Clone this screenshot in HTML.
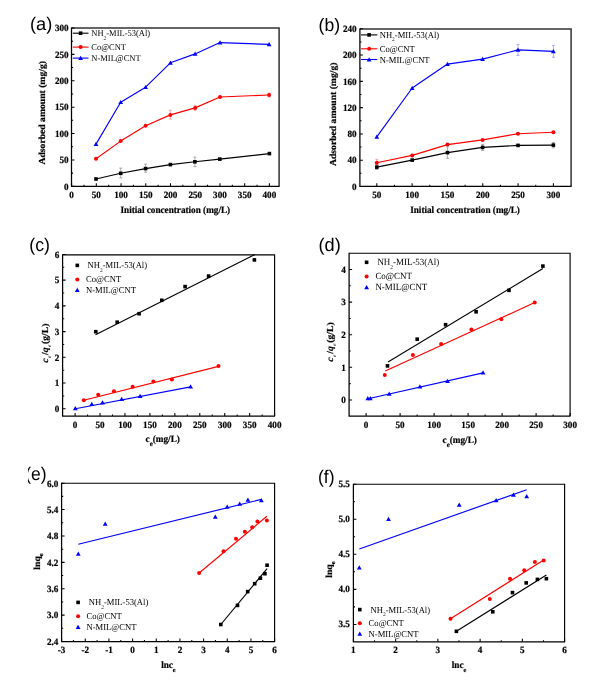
<!DOCTYPE html>
<html lang="en">
<head>
<meta charset="utf-8">
<title>Adsorption isotherms</title>
<style>
html,body{margin:0;padding:0;background:#fff;}
body{width:602px;height:681px;overflow:hidden;}
svg{display:block;}
text{text-rendering:geometricPrecision;}
</style>
</head>
<body>
<svg width="602" height="681" viewBox="0 0 602 681">
<rect width="602" height="681" fill="#fff"/>
<path d="M71.5 28H279.1V186.3" fill="none" stroke="#333" stroke-width="1.5"/>
<path d="M71.5 27.5V186.3H279.6" fill="none" stroke="#000" stroke-width="1.25" stroke-linejoin="miter"/>
<path d="M71.6 186.3v-3.0M96.32 186.3v-3.0M121.05 186.3v-3.0M145.77 186.3v-3.0M170.5 186.3v-3.0M195.22 186.3v-3.0M219.95 186.3v-3.0M244.67 186.3v-3.0M269.4 186.3v-3.0M83.96 186.3v-1.6M108.69 186.3v-1.6M133.41 186.3v-1.6M158.14 186.3v-1.6M182.86 186.3v-1.6M207.59 186.3v-1.6M232.31 186.3v-1.6M257.04 186.3v-1.6M71.5 186.3h3.0M71.5 159.92h3.0M71.5 133.53h3.0M71.5 107.15h3.0M71.5 80.77h3.0M71.5 54.38h3.0M71.5 28h3.0M71.5 173.11h1.6M71.5 146.73h1.6M71.5 120.34h1.6M71.5 93.96h1.6M71.5 67.58h1.6M71.5 41.19h1.6" fill="none" stroke="#000" stroke-width="1.05"/>
<g font-family="'Liberation Serif',serif" font-weight="bold" font-size="9.15" fill="#000" stroke="#000" stroke-width="0.2">
<g text-anchor="middle">
<text transform="translate(71.6 197.7) scale(1 1.05)">0</text>
<text transform="translate(96.32 197.7) scale(1 1.05)">50</text>
<text transform="translate(121.05 197.7) scale(1 1.05)">100</text>
<text transform="translate(145.77 197.7) scale(1 1.05)">150</text>
<text transform="translate(170.5 197.7) scale(1 1.05)">200</text>
<text transform="translate(195.22 197.7) scale(1 1.05)">250</text>
<text transform="translate(219.95 197.7) scale(1 1.05)">300</text>
<text transform="translate(244.67 197.7) scale(1 1.05)">350</text>
<text transform="translate(269.4 197.7) scale(1 1.05)">400</text>
</g><g text-anchor="end">
<text transform="translate(68.6 189.6) scale(1 1.05)">0</text>
<text transform="translate(68.6 163.22) scale(1 1.05)">50</text>
<text transform="translate(68.6 136.83) scale(1 1.05)">100</text>
<text transform="translate(68.6 110.45) scale(1 1.05)">150</text>
<text transform="translate(68.6 84.07) scale(1 1.05)">200</text>
<text transform="translate(68.6 57.68) scale(1 1.05)">250</text>
<text transform="translate(68.6 31.3) scale(1 1.05)">300</text>
</g></g>
<path d="M120.7 168.1V177.8M119.2 168.1h3M119.2 177.8h3" stroke="#8c8c8c" stroke-width="0.7" fill="none"/>
<path d="M145.6 164.1V172.3M144.1 164.1h3M144.1 172.3h3" stroke="#8c8c8c" stroke-width="0.7" fill="none"/>
<path d="M194.9 157.1V166.6M193.4 157.1h3M193.4 166.6h3" stroke="#8c8c8c" stroke-width="0.7" fill="none"/>
<path d="M170.4 110.2V119.1M168.9 110.2h3M168.9 119.1h3" stroke="#ff8a8a" stroke-width="0.7" fill="none"/>
<path d="M195.1 105.4V110.4M193.6 105.4h3M193.6 110.4h3" stroke="#ff8a8a" stroke-width="0.7" fill="none"/>
<path d="M269.1 93V97M267.6 93h3M267.6 97h3" stroke="#ff8a8a" stroke-width="0.7" fill="none"/>
<path d="M96 179L120.7 173.3L145.6 168.6L170.4 164.6L194.9 161.8L219.8 159.1L269.4 153.6" fill="none" stroke="#000" stroke-width="1.15" stroke-linejoin="round"/>
<rect x="94.2" y="177.2" width="3.6" height="3.6" fill="#000"/>
<rect x="118.9" y="171.5" width="3.6" height="3.6" fill="#000"/>
<rect x="143.8" y="166.8" width="3.6" height="3.6" fill="#000"/>
<rect x="168.6" y="162.8" width="3.6" height="3.6" fill="#000"/>
<rect x="193.1" y="160" width="3.6" height="3.6" fill="#000"/>
<rect x="218" y="157.3" width="3.6" height="3.6" fill="#000"/>
<rect x="267.6" y="151.8" width="3.6" height="3.6" fill="#000"/>
<path d="M96 158.8L120.7 141.1L145.6 125.7L170.4 114.9L195.1 107.9L220 97L269.1 95" fill="none" stroke="#ff0000" stroke-width="1.15" stroke-linejoin="round"/>
<circle cx="96" cy="158.8" r="2" fill="#ff0000"/>
<circle cx="120.7" cy="141.1" r="2" fill="#ff0000"/>
<circle cx="145.6" cy="125.7" r="2" fill="#ff0000"/>
<circle cx="170.4" cy="114.9" r="2" fill="#ff0000"/>
<circle cx="195.1" cy="107.9" r="2" fill="#ff0000"/>
<circle cx="220" cy="97" r="2" fill="#ff0000"/>
<circle cx="269.1" cy="95" r="2" fill="#ff0000"/>
<path d="M96 144.1L120.7 102.2L145.6 87.2L170.4 62.8L195.1 53.9L220 42.6L269.1 44.4" fill="none" stroke="#0000ff" stroke-width="1.15" stroke-linejoin="round"/>
<path d="M93.6 146L98.4 146L96 141.8Z" fill="#0000ff"/>
<path d="M118.3 104.1L123.1 104.1L120.7 99.9Z" fill="#0000ff"/>
<path d="M143.2 89.1L148 89.1L145.6 84.9Z" fill="#0000ff"/>
<path d="M168 64.7L172.8 64.7L170.4 60.5Z" fill="#0000ff"/>
<path d="M192.7 55.8L197.5 55.8L195.1 51.6Z" fill="#0000ff"/>
<path d="M217.6 44.5L222.4 44.5L220 40.3Z" fill="#0000ff"/>
<path d="M266.7 46.3L271.5 46.3L269.1 42.1Z" fill="#0000ff"/>
<path d="M72.8 33.2H88.5" stroke="#000" stroke-width="1.1" fill="none"/>
<rect x="78.8" y="31.4" width="3.6" height="3.6" fill="#000"/>
<text transform="translate(91.3 36.2) scale(1 1.05)" font-family="'Liberation Serif',serif" font-size="8.5" fill="#000">NH<tspan dy="3.3" font-size="5.4">2</tspan><tspan dy="-3.3">-MIL-53(Al)</tspan></text>
<path d="M72.8 47.1H88.5" stroke="#ff0000" stroke-width="1.1" fill="none"/>
<circle cx="80.6" cy="47.1" r="2" fill="#ff0000"/>
<text transform="translate(91.3 50.1) scale(1 1.05)" font-family="'Liberation Serif',serif" font-size="8.5" fill="#000">Co@CNT</text>
<path d="M72.8 58.1H88.5" stroke="#0000ff" stroke-width="1.1" fill="none"/>
<path d="M78.2 60L83 60L80.6 55.8Z" fill="#0000ff"/>
<text transform="translate(91.3 61.1) scale(1 1.05)" font-family="'Liberation Serif',serif" font-size="8.5" fill="#000">N-MIL@CNT</text>
<path d="M359.9 28.9H571.1V186.3" fill="none" stroke="#333" stroke-width="1.5"/>
<path d="M359.9 28.4V186.3H571.6" fill="none" stroke="#000" stroke-width="1.25" stroke-linejoin="miter"/>
<path d="M376.8 186.3v-3.0M412.12 186.3v-3.0M447.44 186.3v-3.0M482.76 186.3v-3.0M518.08 186.3v-3.0M553.4 186.3v-3.0M394.46 186.3v-1.6M429.78 186.3v-1.6M465.1 186.3v-1.6M500.42 186.3v-1.6M535.74 186.3v-1.6M359.9 186.45h3.0M359.9 160.17h3.0M359.9 133.9h3.0M359.9 107.62h3.0M359.9 81.35h3.0M359.9 55.08h3.0M359.9 28.8h3.0M359.9 173.31h1.6M359.9 147.04h1.6M359.9 120.76h1.6M359.9 94.49h1.6M359.9 68.21h1.6M359.9 41.94h1.6" fill="none" stroke="#000" stroke-width="1.05"/>
<g font-family="'Liberation Serif',serif" font-weight="bold" font-size="9.15" fill="#000" stroke="#000" stroke-width="0.2">
<g text-anchor="middle">
<text transform="translate(376.8 198) scale(1 1.05)">50</text>
<text transform="translate(412.12 198) scale(1 1.05)">100</text>
<text transform="translate(447.44 198) scale(1 1.05)">150</text>
<text transform="translate(482.76 198) scale(1 1.05)">200</text>
<text transform="translate(518.08 198) scale(1 1.05)">250</text>
<text transform="translate(553.4 198) scale(1 1.05)">300</text>
</g><g text-anchor="end">
<text transform="translate(356.6 189.75) scale(1 1.05)">0</text>
<text transform="translate(356.6 163.47) scale(1 1.05)">40</text>
<text transform="translate(356.6 137.2) scale(1 1.05)">80</text>
<text transform="translate(356.6 110.92) scale(1 1.05)">120</text>
<text transform="translate(356.6 84.65) scale(1 1.05)">160</text>
<text transform="translate(356.6 58.38) scale(1 1.05)">200</text>
<text transform="translate(356.6 32.1) scale(1 1.05)">240</text>
</g></g>
<path d="M518 44.4V55.4M516.5 44.4h3M516.5 55.4h3" stroke="#8a8aff" stroke-width="0.7" fill="none"/>
<path d="M553.4 45.4V57.3M551.9 45.4h3M551.9 57.3h3" stroke="#8a8aff" stroke-width="0.7" fill="none"/>
<path d="M447.5 146.9V158.3M446 146.9h3M446 158.3h3" stroke="#8c8c8c" stroke-width="0.7" fill="none"/>
<path d="M482.6 144.4V150.4M481.1 144.4h3M481.1 150.4h3" stroke="#8c8c8c" stroke-width="0.7" fill="none"/>
<path d="M553.4 142.4V147.9M551.9 142.4h3M551.9 147.9h3" stroke="#8c8c8c" stroke-width="0.7" fill="none"/>
<path d="M376.8 164.5V169.5M375.3 164.5h3M375.3 169.5h3" stroke="#8c8c8c" stroke-width="0.7" fill="none"/>
<path d="M376.8 159.3V166.1M375.3 159.3h3M375.3 166.1h3" stroke="#ff8a8a" stroke-width="0.7" fill="none"/>
<path d="M376.8 167.1L412.2 160.1L447.5 152.6L482.6 147.4L518 145.4L553.4 145.1" fill="none" stroke="#000" stroke-width="1.15" stroke-linejoin="round"/>
<rect x="375" y="165.3" width="3.6" height="3.6" fill="#000"/>
<rect x="410.4" y="158.3" width="3.6" height="3.6" fill="#000"/>
<rect x="445.7" y="150.8" width="3.6" height="3.6" fill="#000"/>
<rect x="480.8" y="145.6" width="3.6" height="3.6" fill="#000"/>
<rect x="516.2" y="143.6" width="3.6" height="3.6" fill="#000"/>
<rect x="551.6" y="143.3" width="3.6" height="3.6" fill="#000"/>
<path d="M376.8 162.8L412.2 155.4L447.5 144.6L482.6 139.9L518 133.7L553.4 132.2" fill="none" stroke="#ff0000" stroke-width="1.15" stroke-linejoin="round"/>
<circle cx="376.8" cy="162.8" r="2" fill="#ff0000"/>
<circle cx="412.2" cy="155.4" r="2" fill="#ff0000"/>
<circle cx="447.5" cy="144.6" r="2" fill="#ff0000"/>
<circle cx="482.6" cy="139.9" r="2" fill="#ff0000"/>
<circle cx="518" cy="133.7" r="2" fill="#ff0000"/>
<circle cx="553.4" cy="132.2" r="2" fill="#ff0000"/>
<path d="M376.8 136.9L412.2 88L447.5 64.1L482.6 59.1L518 49.9L553.4 51.4" fill="none" stroke="#0000ff" stroke-width="1.15" stroke-linejoin="round"/>
<path d="M374.4 138.8L379.2 138.8L376.8 134.6Z" fill="#0000ff"/>
<path d="M409.8 89.9L414.6 89.9L412.2 85.7Z" fill="#0000ff"/>
<path d="M445.1 66L449.9 66L447.5 61.8Z" fill="#0000ff"/>
<path d="M480.2 61L485 61L482.6 56.8Z" fill="#0000ff"/>
<path d="M515.6 51.8L520.4 51.8L518 47.6Z" fill="#0000ff"/>
<path d="M551 53.3L555.8 53.3L553.4 49.1Z" fill="#0000ff"/>
<path d="M361.1 34.9H377.3" stroke="#000" stroke-width="1.1" fill="none"/>
<rect x="367.3" y="33.1" width="3.6" height="3.6" fill="#000"/>
<text transform="translate(379.7 37.9) scale(1 1.05)" font-family="'Liberation Serif',serif" font-size="8.6" fill="#000">NH<tspan dy="3.3" font-size="5.4">2</tspan><tspan dy="-3.3">-MIL-53(Al)</tspan></text>
<path d="M361.1 48.8H377.3" stroke="#ff0000" stroke-width="1.1" fill="none"/>
<circle cx="369.1" cy="48.8" r="2" fill="#ff0000"/>
<text transform="translate(379.7 51.8) scale(1 1.05)" font-family="'Liberation Serif',serif" font-size="8.6" fill="#000">Co@CNT</text>
<path d="M361.1 59.5H377.3" stroke="#0000ff" stroke-width="1.1" fill="none"/>
<path d="M366.7 61.4L371.5 61.4L369.1 57.2Z" fill="#0000ff"/>
<text transform="translate(379.7 62.5) scale(1 1.05)" font-family="'Liberation Serif',serif" font-size="8.6" fill="#000">N-MIL@CNT</text>
<path d="M62.6 254.8H274.6V416.1" fill="none" stroke="#000" stroke-width="1.15"/>
<path d="M62.6 254.3V416.1H275.1" fill="none" stroke="#000" stroke-width="1.25" stroke-linejoin="miter"/>
<path d="M75.1 416.1v-3.0M100.04 416.1v-3.0M124.97 416.1v-3.0M149.91 416.1v-3.0M174.85 416.1v-3.0M199.79 416.1v-3.0M224.73 416.1v-3.0M249.66 416.1v-3.0M274.6 416.1v-3.0M87.57 416.1v-1.6M112.51 416.1v-1.6M137.44 416.1v-1.6M162.38 416.1v-1.6M187.32 416.1v-1.6M212.26 416.1v-1.6M237.19 416.1v-1.6M262.13 416.1v-1.6M62.6 408.8h3.0M62.6 383.07h3.0M62.6 357.33h3.0M62.6 331.6h3.0M62.6 305.87h3.0M62.6 280.13h3.0M62.6 254.4h3.0M62.6 395.93h1.6M62.6 370.2h1.6M62.6 344.47h1.6M62.6 318.73h1.6M62.6 293h1.6M62.6 267.27h1.6" fill="none" stroke="#000" stroke-width="1.05"/>
<g font-family="'Liberation Serif',serif" font-weight="bold" font-size="9.15" fill="#000" stroke="#000" stroke-width="0.2">
<g text-anchor="middle">
<text transform="translate(75.1 427.8) scale(1 1.05)">0</text>
<text transform="translate(100.04 427.8) scale(1 1.05)">50</text>
<text transform="translate(124.97 427.8) scale(1 1.05)">100</text>
<text transform="translate(149.91 427.8) scale(1 1.05)">150</text>
<text transform="translate(174.85 427.8) scale(1 1.05)">200</text>
<text transform="translate(199.79 427.8) scale(1 1.05)">250</text>
<text transform="translate(224.73 427.8) scale(1 1.05)">300</text>
<text transform="translate(249.66 427.8) scale(1 1.05)">350</text>
<text transform="translate(274.6 427.8) scale(1 1.05)">400</text>
</g><g text-anchor="end">
<text transform="translate(59.4 412.1) scale(1 1.05)">0</text>
<text transform="translate(59.4 386.37) scale(1 1.05)">1</text>
<text transform="translate(59.4 360.63) scale(1 1.05)">2</text>
<text transform="translate(59.4 334.9) scale(1 1.05)">3</text>
<text transform="translate(59.4 309.17) scale(1 1.05)">4</text>
<text transform="translate(59.4 283.43) scale(1 1.05)">5</text>
<text transform="translate(59.4 257.7) scale(1 1.05)">6</text>
</g></g>
<path d="M95.5 334.7L254.9 254.6" fill="none" stroke="#000" stroke-width="1.15"/>
<rect x="93.95" y="329.9" width="3.6" height="3.6" fill="#000"/>
<rect x="115.4" y="320.4" width="3.6" height="3.6" fill="#000"/>
<rect x="137.3" y="311.9" width="3.6" height="3.6" fill="#000"/>
<rect x="160" y="298.5" width="3.6" height="3.6" fill="#000"/>
<rect x="183.3" y="284.8" width="3.6" height="3.6" fill="#000"/>
<rect x="206.8" y="274.3" width="3.6" height="3.6" fill="#000"/>
<rect x="252.6" y="258.1" width="3.6" height="3.6" fill="#000"/>
<path d="M83.8 400.3L218.5 366.4" fill="none" stroke="#ff0000" stroke-width="1.15"/>
<circle cx="83.8" cy="400.3" r="2" fill="#ff0000"/>
<circle cx="98.2" cy="394.8" r="2" fill="#ff0000"/>
<circle cx="113.9" cy="391.3" r="2" fill="#ff0000"/>
<circle cx="132.6" cy="386.8" r="2" fill="#ff0000"/>
<circle cx="153.4" cy="381.6" r="2" fill="#ff0000"/>
<circle cx="171.9" cy="379.4" r="2" fill="#ff0000"/>
<circle cx="218.5" cy="365.9" r="2" fill="#ff0000"/>
<path d="M75.3 408.8L190.6 386.9" fill="none" stroke="#0000ff" stroke-width="1.15"/>
<path d="M72.9 410.2L77.7 410.2L75.3 406Z" fill="#0000ff"/>
<path d="M89.4 405.9L94.2 405.9L91.8 401.7Z" fill="#0000ff"/>
<path d="M100.1 404.4L104.9 404.4L102.5 400.2Z" fill="#0000ff"/>
<path d="M119.3 400.9L124.1 400.9L121.7 396.7Z" fill="#0000ff"/>
<path d="M137.7 397.9L142.5 397.9L140.1 393.7Z" fill="#0000ff"/>
<path d="M188.2 388.5L193 388.5L190.6 384.3Z" fill="#0000ff"/>
<rect x="75.5" y="263.6" width="3.6" height="3.6" fill="#000"/>
<text transform="translate(87.6 268.4) scale(1 1.05)" font-family="'Liberation Serif',serif" font-size="8.6" fill="#000">NH<tspan dy="3.3" font-size="5.4">2</tspan><tspan dy="-3.3">-MIL-53(Al)</tspan></text>
<circle cx="77.3" cy="279.4" r="2" fill="#ff0000"/>
<text transform="translate(86 282.4) scale(1 1.05)" font-family="'Liberation Serif',serif" font-size="8.6" fill="#000">Co@CNT</text>
<path d="M74.9 292L79.7 292L77.3 287.8Z" fill="#0000ff"/>
<text transform="translate(86 293.1) scale(1 1.05)" font-family="'Liberation Serif',serif" font-size="8.6" fill="#000">N-MIL@CNT</text>
<path d="M349.1 253.2H570.1V416.1" fill="none" stroke="#000" stroke-width="1.15"/>
<path d="M349.1 252.7V416.1H570.6" fill="none" stroke="#000" stroke-width="1.25" stroke-linejoin="miter"/>
<path d="M366.1 416.1v-3.0M400.1 416.1v-3.0M434.1 416.1v-3.0M468.1 416.1v-3.0M502.1 416.1v-3.0M536.1 416.1v-3.0M570.1 416.1v-3.0M383.1 416.1v-1.6M417.1 416.1v-1.6M451.1 416.1v-1.6M485.1 416.1v-1.6M519.1 416.1v-1.6M553.1 416.1v-1.6M349.1 399.9h3.0M349.1 367.3h3.0M349.1 334.7h3.0M349.1 302.1h3.0M349.1 269.5h3.0M349.1 383.6h1.6M349.1 351h1.6M349.1 318.4h1.6M349.1 285.8h1.6" fill="none" stroke="#000" stroke-width="1.05"/>
<g font-family="'Liberation Serif',serif" font-weight="bold" font-size="9.15" fill="#000" stroke="#000" stroke-width="0.2">
<g text-anchor="middle">
<text transform="translate(366.1 427.8) scale(1 1.05)">0</text>
<text transform="translate(400.1 427.8) scale(1 1.05)">50</text>
<text transform="translate(434.1 427.8) scale(1 1.05)">100</text>
<text transform="translate(468.1 427.8) scale(1 1.05)">150</text>
<text transform="translate(502.1 427.8) scale(1 1.05)">200</text>
<text transform="translate(536.1 427.8) scale(1 1.05)">250</text>
<text transform="translate(570.1 427.8) scale(1 1.05)">300</text>
</g><g text-anchor="end">
<text transform="translate(345.9 403.2) scale(1 1.05)">0</text>
<text transform="translate(345.9 370.6) scale(1 1.05)">1</text>
<text transform="translate(345.9 338) scale(1 1.05)">2</text>
<text transform="translate(345.9 305.4) scale(1 1.05)">3</text>
<text transform="translate(345.9 272.8) scale(1 1.05)">4</text>
</g></g>
<path d="M388 361.9L542.9 268.6" fill="none" stroke="#000" stroke-width="1.15"/>
<rect x="385.7" y="364.1" width="3.6" height="3.6" fill="#000"/>
<rect x="415.4" y="337.4" width="3.6" height="3.6" fill="#000"/>
<rect x="443.8" y="322.9" width="3.6" height="3.6" fill="#000"/>
<rect x="474.3" y="310" width="3.6" height="3.6" fill="#000"/>
<rect x="507.2" y="288.5" width="3.6" height="3.6" fill="#000"/>
<rect x="541.1" y="264.3" width="3.6" height="3.6" fill="#000"/>
<path d="M385.3 371.1L534.7 302.5" fill="none" stroke="#ff0000" stroke-width="1.15"/>
<circle cx="384.8" cy="374.9" r="2" fill="#ff0000"/>
<circle cx="412.9" cy="354.9" r="2" fill="#ff0000"/>
<circle cx="441.1" cy="344" r="2" fill="#ff0000"/>
<circle cx="471.4" cy="329.4" r="2" fill="#ff0000"/>
<circle cx="501.3" cy="319.2" r="2" fill="#ff0000"/>
<circle cx="534.7" cy="302.5" r="2" fill="#ff0000"/>
<path d="M367 399L483.1 372.9" fill="none" stroke="#0000ff" stroke-width="1.15"/>
<path d="M365.4 400.2L370.2 400.2L367.8 396Z" fill="#0000ff"/>
<path d="M367.9 400.2L372.7 400.2L370.3 396Z" fill="#0000ff"/>
<path d="M386.8 395.7L391.6 395.7L389.2 391.5Z" fill="#0000ff"/>
<path d="M417.5 388.5L422.3 388.5L419.9 384.3Z" fill="#0000ff"/>
<path d="M445.2 382.9L450 382.9L447.6 378.7Z" fill="#0000ff"/>
<path d="M480.7 374.5L485.5 374.5L483.1 370.3Z" fill="#0000ff"/>
<rect x="364.8" y="260.5" width="3.6" height="3.6" fill="#000"/>
<text transform="translate(377.4 265.3) scale(1 1.05)" font-family="'Liberation Serif',serif" font-size="8.95" fill="#000">NH<tspan dy="3.3" font-size="5.4">2</tspan><tspan dy="-3.3">-MIL-53(Al)</tspan></text>
<circle cx="366.6" cy="276.4" r="2" fill="#ff0000"/>
<text transform="translate(375.4 279.4) scale(1 1.05)" font-family="'Liberation Serif',serif" font-size="8.95" fill="#000">Co@CNT</text>
<path d="M364.2 289.3L369 289.3L366.6 285.1Z" fill="#0000ff"/>
<text transform="translate(375.4 290.4) scale(1 1.05)" font-family="'Liberation Serif',serif" font-size="8.95" fill="#000">N-MIL@CNT</text>
<path d="M61.6 483.2H274.6V641.5" fill="none" stroke="#000" stroke-width="1.15"/>
<path d="M61.6 482.7V641.5H275.1" fill="none" stroke="#000" stroke-width="1.25" stroke-linejoin="miter"/>
<path d="M61.6 641.5v-3.0M85.27 641.5v-3.0M108.93 641.5v-3.0M132.6 641.5v-3.0M156.27 641.5v-3.0M179.93 641.5v-3.0M203.6 641.5v-3.0M227.27 641.5v-3.0M250.93 641.5v-3.0M274.6 641.5v-3.0M73.43 641.5v-1.6M97.1 641.5v-1.6M120.77 641.5v-1.6M144.43 641.5v-1.6M168.1 641.5v-1.6M191.77 641.5v-1.6M215.43 641.5v-1.6M239.1 641.5v-1.6M262.77 641.5v-1.6M61.6 641.5h3.0M61.6 615.12h3.0M61.6 588.73h3.0M61.6 562.35h3.0M61.6 535.97h3.0M61.6 509.58h3.0M61.6 483.2h3.0M61.6 628.31h1.6M61.6 601.92h1.6M61.6 575.54h1.6M61.6 549.16h1.6M61.6 522.77h1.6M61.6 496.39h1.6" fill="none" stroke="#000" stroke-width="1.05"/>
<g font-family="'Liberation Serif',serif" font-weight="bold" font-size="9.15" fill="#000" stroke="#000" stroke-width="0.2">
<g text-anchor="middle">
<text transform="translate(61.6 652.8) scale(1 1.05)">-3</text>
<text transform="translate(85.27 652.8) scale(1 1.05)">-2</text>
<text transform="translate(108.93 652.8) scale(1 1.05)">-1</text>
<text transform="translate(132.6 652.8) scale(1 1.05)">0</text>
<text transform="translate(156.27 652.8) scale(1 1.05)">1</text>
<text transform="translate(179.93 652.8) scale(1 1.05)">2</text>
<text transform="translate(203.6 652.8) scale(1 1.05)">3</text>
<text transform="translate(227.27 652.8) scale(1 1.05)">4</text>
<text transform="translate(250.93 652.8) scale(1 1.05)">5</text>
<text transform="translate(274.6 652.8) scale(1 1.05)">6</text>
</g><g text-anchor="end">
<text transform="translate(58.4 644.8) scale(1 1.05)">2.4</text>
<text transform="translate(58.4 618.42) scale(1 1.05)">3.0</text>
<text transform="translate(58.4 592.03) scale(1 1.05)">3.6</text>
<text transform="translate(58.4 565.65) scale(1 1.05)">4.2</text>
<text transform="translate(58.4 539.27) scale(1 1.05)">4.8</text>
<text transform="translate(58.4 512.88) scale(1 1.05)">5.4</text>
<text transform="translate(58.4 486.5) scale(1 1.05)">6.0</text>
</g></g>
<path d="M220.8 624.5L267.1 568.7" fill="none" stroke="#000" stroke-width="1.15"/>
<rect x="219" y="622.7" width="3.6" height="3.6" fill="#000"/>
<rect x="235.7" y="603.6" width="3.6" height="3.6" fill="#000"/>
<rect x="245.9" y="589.8" width="3.6" height="3.6" fill="#000"/>
<rect x="252.9" y="581.9" width="3.6" height="3.6" fill="#000"/>
<rect x="258.6" y="576.4" width="3.6" height="3.6" fill="#000"/>
<rect x="263.1" y="571.9" width="3.6" height="3.6" fill="#000"/>
<rect x="265.3" y="563.4" width="3.6" height="3.6" fill="#000"/>
<path d="M199.1 573L266.9 516.3" fill="none" stroke="#ff0000" stroke-width="1.15"/>
<circle cx="199.1" cy="573" r="2" fill="#ff0000"/>
<circle cx="223.5" cy="551.2" r="2" fill="#ff0000"/>
<circle cx="236" cy="538.7" r="2" fill="#ff0000"/>
<circle cx="244.9" cy="531.8" r="2" fill="#ff0000"/>
<circle cx="252.2" cy="527.3" r="2" fill="#ff0000"/>
<circle cx="257.4" cy="521.5" r="2" fill="#ff0000"/>
<circle cx="266.9" cy="520.6" r="2" fill="#ff0000"/>
<path d="M78.3 544.2L261.4 499.4" fill="none" stroke="#0000ff" stroke-width="1.15"/>
<path d="M75.9 555.8L80.7 555.8L78.3 551.6Z" fill="#0000ff"/>
<path d="M102.8 525.7L107.6 525.7L105.2 521.5Z" fill="#0000ff"/>
<path d="M212.9 518.7L217.7 518.7L215.3 514.5Z" fill="#0000ff"/>
<path d="M224.8 508.7L229.6 508.7L227.2 504.5Z" fill="#0000ff"/>
<path d="M237.3 505.8L242.1 505.8L239.7 501.6Z" fill="#0000ff"/>
<path d="M245.5 501.8L250.3 501.8L247.9 497.6Z" fill="#0000ff"/>
<path d="M259 502.3L263.8 502.3L261.4 498.1Z" fill="#0000ff"/>
<rect x="76.3" y="600.6" width="3.6" height="3.6" fill="#000"/>
<text transform="translate(88.8 605.4) scale(1 1.05)" font-family="'Liberation Serif',serif" font-size="8.6" fill="#000">NH<tspan dy="3.3" font-size="5.4">2</tspan><tspan dy="-3.3">-MIL-53(Al)</tspan></text>
<circle cx="78.1" cy="616.3" r="2" fill="#ff0000"/>
<text transform="translate(86.5 619.3) scale(1 1.05)" font-family="'Liberation Serif',serif" font-size="8.6" fill="#000">Co@CNT</text>
<path d="M75.7 628.9L80.5 628.9L78.1 624.7Z" fill="#0000ff"/>
<text transform="translate(86.5 630) scale(1 1.05)" font-family="'Liberation Serif',serif" font-size="8.6" fill="#000">N-MIL@CNT</text>
<path d="M353.4 484.2H564.6V641.8" fill="none" stroke="#000" stroke-width="1.15"/>
<path d="M353.4 483.7V641.8H565.1" fill="none" stroke="#000" stroke-width="1.25" stroke-linejoin="miter"/>
<path d="M353.4 641.8v-3.0M395.64 641.8v-3.0M437.88 641.8v-3.0M480.12 641.8v-3.0M522.36 641.8v-3.0M564.6 641.8v-3.0M374.52 641.8v-1.6M416.76 641.8v-1.6M459 641.8v-1.6M501.24 641.8v-1.6M543.48 641.8v-1.6M353.4 624.4h3.0M353.4 589.35h3.0M353.4 554.3h3.0M353.4 519.25h3.0M353.4 484.2h3.0M353.4 606.88h1.6M353.4 571.82h1.6M353.4 536.77h1.6M353.4 501.73h1.6" fill="none" stroke="#000" stroke-width="1.05"/>
<g font-family="'Liberation Serif',serif" font-weight="bold" font-size="9.15" fill="#000" stroke="#000" stroke-width="0.2">
<g text-anchor="middle">
<text transform="translate(353.4 653) scale(1 1.05)">1</text>
<text transform="translate(395.64 653) scale(1 1.05)">2</text>
<text transform="translate(437.88 653) scale(1 1.05)">3</text>
<text transform="translate(480.12 653) scale(1 1.05)">4</text>
<text transform="translate(522.36 653) scale(1 1.05)">5</text>
<text transform="translate(564.6 653) scale(1 1.05)">6</text>
</g><g text-anchor="end">
<text transform="translate(349.8 627.2) scale(1 1.05)">3.5</text>
<text transform="translate(349.8 592.15) scale(1 1.05)">4.0</text>
<text transform="translate(349.8 557.1) scale(1 1.05)">4.5</text>
<text transform="translate(349.8 522.05) scale(1 1.05)">5.0</text>
<text transform="translate(349.8 487) scale(1 1.05)">5.5</text>
</g></g>
<path d="M456.4 631.3L546.4 575" fill="none" stroke="#000" stroke-width="1.15"/>
<rect x="454.6" y="629.5" width="3.6" height="3.6" fill="#000"/>
<rect x="491" y="610" width="3.6" height="3.6" fill="#000"/>
<rect x="510.7" y="590.8" width="3.6" height="3.6" fill="#000"/>
<rect x="524.4" y="581.1" width="3.6" height="3.6" fill="#000"/>
<rect x="535.6" y="577.6" width="3.6" height="3.6" fill="#000"/>
<rect x="544.6" y="576.9" width="3.6" height="3.6" fill="#000"/>
<path d="M450.5 618.8L543.7 560" fill="none" stroke="#ff0000" stroke-width="1.15"/>
<circle cx="450.5" cy="618.8" r="2" fill="#ff0000"/>
<circle cx="489.8" cy="599.1" r="2" fill="#ff0000"/>
<circle cx="510" cy="578.7" r="2" fill="#ff0000"/>
<circle cx="524.2" cy="570.2" r="2" fill="#ff0000"/>
<circle cx="534.9" cy="562" r="2" fill="#ff0000"/>
<circle cx="543.7" cy="560.5" r="2" fill="#ff0000"/>
<path d="M359.3 549L526.7 489.7" fill="none" stroke="#0000ff" stroke-width="1.15"/>
<path d="M356.9 569.5L361.7 569.5L359.3 565.3Z" fill="#0000ff"/>
<path d="M386.1 521L390.9 521L388.5 516.8Z" fill="#0000ff"/>
<path d="M456.8 506.8L461.6 506.8L459.2 502.6Z" fill="#0000ff"/>
<path d="M493.7 502.3L498.5 502.3L496.1 498.1Z" fill="#0000ff"/>
<path d="M511.1 496.8L515.9 496.8L513.5 492.6Z" fill="#0000ff"/>
<path d="M524.3 498.3L529.1 498.3L526.7 494.1Z" fill="#0000ff"/>
<rect x="358" y="607.8" width="3.6" height="3.6" fill="#000"/>
<text transform="translate(370.6 612.6) scale(1 1.05)" font-family="'Liberation Serif',serif" font-size="8.6" fill="#000">NH<tspan dy="3.3" font-size="5.4">2</tspan><tspan dy="-3.3">-MIL-53(Al)</tspan></text>
<circle cx="359.8" cy="623.3" r="2" fill="#ff0000"/>
<text transform="translate(368.6 626.3) scale(1 1.05)" font-family="'Liberation Serif',serif" font-size="8.6" fill="#000">Co@CNT</text>
<path d="M357.4 635.7L362.2 635.7L359.8 631.5Z" fill="#0000ff"/>
<text transform="translate(368.6 636.8) scale(1 1.05)" font-family="'Liberation Serif',serif" font-size="8.6" fill="#000">N-MIL@CNT</text>
<text transform="translate(175.3 213) scale(1 1.05)" text-anchor="middle" font-family="'Liberation Serif',serif" font-weight="bold" font-size="9.2" fill="#000" stroke="#000" stroke-width="0.2">Initial concentration (mg/L)</text>
<text transform="translate(45.2 112.8) scale(1 1.05) rotate(-90)" text-anchor="middle" font-family="'Liberation Serif',serif" font-weight="bold" font-size="9.2" fill="#000" stroke="#000" stroke-width="0.2">Adsorbed amount (mg/g)</text>
<text transform="translate(465 213) scale(1 1.05)" text-anchor="middle" font-family="'Liberation Serif',serif" font-weight="bold" font-size="9.2" fill="#000" stroke="#000" stroke-width="0.2">Initial concentration (mg/L)</text>
<text transform="translate(336.2 114.3) scale(1 1.05) rotate(-90)" text-anchor="middle" font-family="'Liberation Serif',serif" font-weight="bold" font-size="9.2" fill="#000" stroke="#000" stroke-width="0.2">Adsorbed amount (mg/g)</text>
<text transform="translate(47.7 343.2) scale(1 1.05) rotate(-90)" text-anchor="middle" font-family="'Liberation Serif',serif" font-weight="bold" font-size="9.2" fill="#000" stroke="#000" stroke-width="0.2"><tspan font-style="italic">c</tspan><tspan dy="2.8" dx="0.2" font-size="5.6" font-style="italic" font-weight="normal" stroke="none">e</tspan><tspan dy="-2.8" dx="0.8">/</tspan><tspan font-style="italic">q</tspan><tspan dy="2.8" dx="0.2" font-size="5.6" font-style="italic" font-weight="normal" stroke="none">e</tspan><tspan dy="-2.8" dx="0.6">(g/L)</tspan></text>
<text transform="translate(162.7 441.9) scale(1 1.05)" text-anchor="middle" font-family="'Liberation Serif',serif" font-weight="bold" font-size="9.2" fill="#000" stroke="#000" stroke-width="0.2">c<tspan dy="3.5" font-size="7">e</tspan><tspan dy="-3.5">(mg/L)</tspan></text>
<text transform="translate(333.4 342) scale(1 1.05) rotate(-90)" text-anchor="middle" font-family="'Liberation Serif',serif" font-weight="bold" font-size="9.2" fill="#000" stroke="#000" stroke-width="0.2"><tspan font-style="italic">c</tspan><tspan dy="2.8" dx="0.2" font-size="5.6" font-style="italic" font-weight="normal" stroke="none">e</tspan><tspan dy="-2.8" dx="0.8">/</tspan><tspan font-style="italic">q</tspan><tspan dy="2.8" dx="0.2" font-size="5.6" font-style="italic" font-weight="normal" stroke="none">e</tspan><tspan dy="-2.8" dx="0.6">(g/L)</tspan></text>
<text transform="translate(459.7 443.3) scale(1 1.05)" text-anchor="middle" font-family="'Liberation Serif',serif" font-weight="bold" font-size="9.2" fill="#000" stroke="#000" stroke-width="0.2">c<tspan dy="3.5" font-size="7">e</tspan><tspan dy="-3.5">(mg/L)</tspan></text>
<text transform="translate(40 561.5) scale(1 1.05) rotate(-90)" text-anchor="middle" font-family="'Liberation Serif',serif" font-weight="bold" font-size="9.2" fill="#000" stroke="#000" stroke-width="0.2">lnq<tspan dy="3.4" font-size="6.3">e</tspan></text>
<text transform="translate(168.4 668.4) scale(1 1.05)" text-anchor="middle" font-family="'Liberation Serif',serif" font-weight="bold" font-size="9.2" fill="#000" stroke="#000" stroke-width="0.2">lnc<tspan dy="3.4" font-size="6.3">e</tspan></text>
<text transform="translate(331.8 569.6) scale(1 1.05) rotate(-90)" text-anchor="middle" font-family="'Liberation Serif',serif" font-weight="bold" font-size="9.2" fill="#000" stroke="#000" stroke-width="0.2">lnq<tspan dy="3.4" font-size="6.3">e</tspan></text>
<text transform="translate(459 668.4) scale(1 1.05)" text-anchor="middle" font-family="'Liberation Serif',serif" font-weight="bold" font-size="9.2" fill="#000" stroke="#000" stroke-width="0.2">lnc<tspan dy="3.4" font-size="6.3">e</tspan></text>
<text transform="translate(30 30) scale(1 1.0)" font-family="'Liberation Sans',sans-serif" font-size="18.3" fill="#000">(a)</text>
<text transform="translate(318.6 30.5) scale(1 1.02)" font-family="'Liberation Sans',sans-serif" font-size="17.6" fill="#000">(b)</text>
<text transform="translate(29.3 250.6) scale(1 1.04)" font-family="'Liberation Sans',sans-serif" font-size="17.7" fill="#000">(c)</text>
<text transform="translate(318.5 251.2) scale(1 1.01)" font-family="'Liberation Sans',sans-serif" font-size="18.2" fill="#000">(d)</text>
<clipPath id="ce"><rect x="28" y="455" width="40" height="40"/></clipPath><g clip-path="url(#ce)">
<text transform="translate(25.2 479.6) scale(1 1.05)" font-family="'Liberation Sans',sans-serif" font-size="17.5" fill="#000">(e)</text>
</g>
<text transform="translate(318 483.3) scale(1 1.05)" font-family="'Liberation Sans',sans-serif" font-size="17.5" fill="#000">(f)</text>
</svg>
</body>
</html>
